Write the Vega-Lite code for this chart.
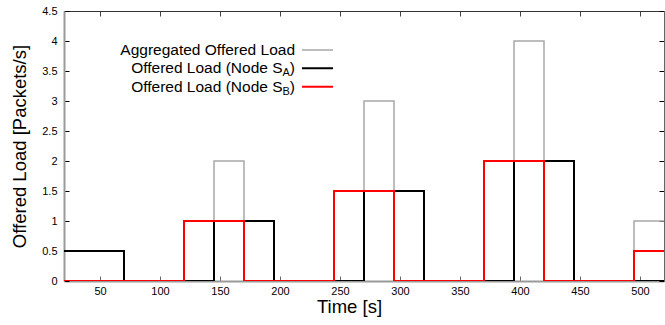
{
  "$schema": "https://vega.github.io/schema/vega-lite/v6.json",
  "width": 600,
  "height": 270,
  "autosize": {"type": "none"},
  "padding": {"left": 64, "top": 11, "right": 1, "bottom": 44},
  "background": "white",
  "config": {
    "view": {"stroke": null},
    "font": "Liberation Sans",
    "axis": {"grid": false, "labelFont": "Liberation Sans", "titleFont": "Liberation Sans", "labelColor": "#000", "titleColor": "#000", "tickColor": "#000", "labelFontSize": 11, "titleFontSize": 18.5, "titleFontWeight": "normal", "zindex": 1}
  },
  "datasets": {
    "lines": [
      {"series": "Aggregated", "t": 20, "v": 0.5}, {"series": "Aggregated", "t": 70, "v": 0}, {"series": "Aggregated", "t": 120, "v": 1}, {"series": "Aggregated", "t": 145, "v": 2}, {"series": "Aggregated", "t": 170, "v": 1}, {"series": "Aggregated", "t": 195, "v": 0}, {"series": "Aggregated", "t": 245, "v": 1.5}, {"series": "Aggregated", "t": 270, "v": 3}, {"series": "Aggregated", "t": 295, "v": 1.5}, {"series": "Aggregated", "t": 320, "v": 0}, {"series": "Aggregated", "t": 370, "v": 2}, {"series": "Aggregated", "t": 395, "v": 4}, {"series": "Aggregated", "t": 420, "v": 2}, {"series": "Aggregated", "t": 445, "v": 0}, {"series": "Aggregated", "t": 495, "v": 1}, {"series": "Aggregated", "t": 520, "v": 1},
      {"series": "NodeA", "t": 20, "v": 0.5}, {"series": "NodeA", "t": 70, "v": 0}, {"series": "NodeA", "t": 145, "v": 1}, {"series": "NodeA", "t": 195, "v": 0}, {"series": "NodeA", "t": 270, "v": 1.5}, {"series": "NodeA", "t": 320, "v": 0}, {"series": "NodeA", "t": 395, "v": 2}, {"series": "NodeA", "t": 445, "v": 0}, {"series": "NodeA", "t": 520, "v": 0},
      {"series": "NodeB", "t": 20, "v": 0}, {"series": "NodeB", "t": 120, "v": 1}, {"series": "NodeB", "t": 170, "v": 0}, {"series": "NodeB", "t": 245, "v": 1.5}, {"series": "NodeB", "t": 295, "v": 0}, {"series": "NodeB", "t": 370, "v": 2}, {"series": "NodeB", "t": 420, "v": 0}, {"series": "NodeB", "t": 495, "v": 0.5}, {"series": "NodeB", "t": 520, "v": 0.5}
    ],
    "one": [{}]
  },
  "resolve": {"axis": {"x": "independent", "y": "independent"}},
  "layer": [
    {
      "data": {"name": "lines"},
      "transform": [{"filter": "datum.series === 'Aggregated'"}],
      "mark": {"type": "line", "interpolate": "step-after", "strokeWidth": 1.5, "clip": true},
      "encoding": {
        "x": {"field": "t", "type": "quantitative", "scale": {"domain": [20, 520], "nice": false, "zero": false},
          "axis": {"orient": "bottom", "title": "Time [s]", "values": [50, 100, 150, 200, 250, 300, 350, 400, 450, 500], "tickSize": -5, "labelPadding": 9, "domainColor": "#999", "domainWidth": 2, "tickColor": "#666", "titleX": 285, "titleY": 25, "titleBaseline": "middle"}},
        "y": {"field": "v", "type": "quantitative", "scale": {"domain": [0, 4.5], "nice": false},
          "axis": {"orient": "left", "title": "Offered Load [Packets/s]", "values": [0, 0.5, 1, 1.5, 2, 2.5, 3, 3.5, 4, 4.5], "format": "~g", "tickSize": -5, "labelPadding": 12, "domainColor": "#999", "domainWidth": 2, "titleX": -45, "titleY": 135, "titleBaseline": "middle"}},
        "color": {"field": "series", "type": "nominal", "scale": {"domain": ["Aggregated", "NodeA", "NodeB"], "range": ["#a8a8a8", "#000000", "#ff0000"]}, "legend": null}
      }
    },
    {
      "data": {"name": "lines"},
      "transform": [{"filter": "datum.series === 'NodeA'"}],
      "mark": {"type": "line", "interpolate": "step-after", "strokeWidth": 2, "clip": true},
      "encoding": {
        "x": {"field": "t", "type": "quantitative", "axis": {"orient": "top", "labels": false, "title": null, "values": [50, 100, 150, 200, 250, 300, 350, 400, 450, 500], "tickSize": -5, "domainColor": "#333", "domainWidth": 1, "tickColor": "#444"}},
        "y": {"field": "v", "type": "quantitative", "axis": {"orient": "right", "labels": false, "title": null, "values": [0, 0.5, 1, 1.5, 2, 2.5, 3, 3.5, 4, 4.5], "tickSize": -5, "domainColor": "#666", "domainWidth": 1}},
        "color": {"field": "series", "type": "nominal", "legend": null}
      }
    },
    {
      "data": {"name": "lines"},
      "transform": [{"filter": "datum.series === 'NodeB'"}],
      "mark": {"type": "line", "interpolate": "step-after", "strokeWidth": 2, "clip": true},
      "encoding": {
        "x": {"field": "t", "type": "quantitative", "axis": null},
        "y": {"field": "v", "type": "quantitative", "axis": null},
        "color": {"field": "series", "type": "nominal", "legend": null}
      }
    },
    {
      "data": {"name": "one"},
      "mark": {"type": "text", "text": "Aggregated Offered Load", "align": "right", "baseline": "middle", "fontSize": 15.5, "color": "#000"},
      "encoding": {"x": {"datum": 212.5, "type": "quantitative", "axis": null}, "y": {"datum": 3.85, "type": "quantitative", "axis": null}}
    },
    {
      "data": {"name": "one"},
      "mark": {"type": "text", "text": "Offered Load (Node S", "align": "right", "baseline": "middle", "fontSize": 15.5, "color": "#000"},
      "encoding": {"x": {"datum": 202.1, "type": "quantitative", "axis": null}, "y": {"datum": 3.545, "type": "quantitative", "axis": null}}
    },
    {
      "data": {"name": "one"},
      "mark": {"type": "text", "text": "A", "align": "left", "baseline": "middle", "fontSize": 11, "dy": 5, "color": "#000"},
      "encoding": {"x": {"datum": 202.1, "type": "quantitative", "axis": null}, "y": {"datum": 3.545, "type": "quantitative", "axis": null}}
    },
    {
      "data": {"name": "one"},
      "mark": {"type": "text", "text": ")", "align": "right", "baseline": "middle", "fontSize": 15.5, "color": "#000"},
      "encoding": {"x": {"datum": 212.5, "type": "quantitative", "axis": null}, "y": {"datum": 3.545, "type": "quantitative", "axis": null}}
    },
    {
      "data": {"name": "one"},
      "mark": {"type": "text", "text": "Offered Load (Node S", "align": "right", "baseline": "middle", "fontSize": 15.5, "color": "#000"},
      "encoding": {"x": {"datum": 202.1, "type": "quantitative", "axis": null}, "y": {"datum": 3.238, "type": "quantitative", "axis": null}}
    },
    {
      "data": {"name": "one"},
      "mark": {"type": "text", "text": "B", "align": "left", "baseline": "middle", "fontSize": 11, "dy": 5, "color": "#000"},
      "encoding": {"x": {"datum": 202.1, "type": "quantitative", "axis": null}, "y": {"datum": 3.238, "type": "quantitative", "axis": null}}
    },
    {
      "data": {"name": "one"},
      "mark": {"type": "text", "text": ")", "align": "right", "baseline": "middle", "fontSize": 15.5, "color": "#000"},
      "encoding": {"x": {"datum": 212.5, "type": "quantitative", "axis": null}, "y": {"datum": 3.238, "type": "quantitative", "axis": null}}
    },
    {
      "data": {"name": "one"},
      "mark": {"type": "rule", "strokeWidth": 1.5},
      "encoding": {"x": {"datum": 218.3, "type": "quantitative", "axis": null}, "x2": {"datum": 244.2}, "y": {"datum": 3.85, "type": "quantitative", "axis": null}, "color": {"datum": "Aggregated", "type": "nominal", "legend": null}}
    },
    {
      "data": {"name": "one"},
      "mark": {"type": "rule", "strokeWidth": 2},
      "encoding": {"x": {"datum": 218.3, "type": "quantitative", "axis": null}, "x2": {"datum": 244.2}, "y": {"datum": 3.545, "type": "quantitative", "axis": null}, "color": {"datum": "NodeA", "type": "nominal", "legend": null}}
    },
    {
      "data": {"name": "one"},
      "mark": {"type": "rule", "strokeWidth": 2},
      "encoding": {"x": {"datum": 218.3, "type": "quantitative", "axis": null}, "x2": {"datum": 244.2}, "y": {"datum": 3.238, "type": "quantitative", "axis": null}, "color": {"datum": "NodeB", "type": "nominal", "legend": null}}
    }
  ]
}
